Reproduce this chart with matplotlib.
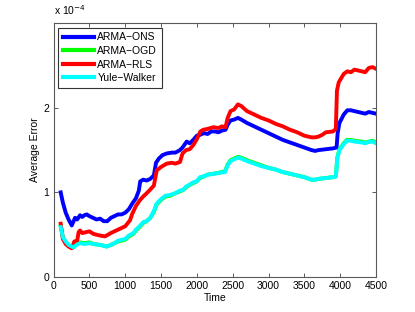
import matplotlib
matplotlib.use("Agg")
import matplotlib.pyplot as plt
import numpy as np

plt.rcParams['font.family'] = ['Liberation Sans', 'DejaVu Sans']

# average error, in units of 1e-4
x_ons = [100, 130, 170, 210, 254, 280, 300, 330, 370, 400, 430, 463, 500, 550, 600, 650, 700, 750,
         800, 850, 900, 950, 1000, 1050, 1100, 1150, 1190, 1210, 1250, 1300, 1350, 1400, 1430, 1470,
         1520, 1580, 1650, 1700, 1765, 1800, 1858, 1900, 1950, 2000, 2044, 2100, 2150, 2200, 2250,
         2300, 2350, 2400, 2430, 2470, 2520, 2574, 2620, 2700, 2800, 2900, 3000, 3100, 3200, 3300,
         3400, 3500, 3600, 3650, 3700, 3800, 3900, 3950, 3965, 3990, 4050, 4100, 4150, 4200, 4300,
         4350, 4400, 4450, 4500]
y_ons = [1.00, 0.88, 0.76, 0.68, 0.61, 0.66, 0.70, 0.68, 0.73, 0.71, 0.73, 0.74, 0.72, 0.70, 0.68,
         0.69, 0.66, 0.66, 0.70, 0.72, 0.74, 0.74, 0.76, 0.80, 0.87, 0.93, 1.02, 1.13, 1.15, 1.14,
         1.16, 1.20, 1.35, 1.40, 1.44, 1.46, 1.47, 1.47, 1.50, 1.53, 1.60, 1.58, 1.62, 1.67, 1.68,
         1.70, 1.69, 1.72, 1.72, 1.71, 1.73, 1.74, 1.80, 1.85, 1.86, 1.88, 1.86, 1.82, 1.78, 1.74,
         1.70, 1.66, 1.62, 1.59, 1.56, 1.53, 1.50, 1.49, 1.50, 1.51, 1.52, 1.53, 1.70, 1.82, 1.92,
         1.97, 1.97, 1.96, 1.94, 1.93, 1.95, 1.94, 1.93]

x_rls = [100, 130, 170, 210, 254, 290, 330, 350, 370, 400, 450, 500, 556, 600, 650, 718, 760, 800,
         850, 900, 950, 1000, 1067, 1100, 1150, 1207, 1250, 1300, 1346, 1400, 1440, 1500, 1579, 1650,
         1700, 1765, 1800, 1850, 1900, 1951, 2000, 2050, 2090, 2150, 2230, 2300, 2350, 2400, 2430,
         2470, 2520, 2574, 2620, 2700, 2800, 2900, 3000, 3100, 3200, 3300, 3400, 3500, 3600, 3650,
         3700, 3750, 3800, 3900, 3940, 3955, 3980, 4050, 4100, 4150, 4200, 4300, 4350, 4400, 4450,
         4500]
y_rls = [0.63, 0.45, 0.39, 0.36, 0.34, 0.42, 0.43, 0.53, 0.55, 0.52, 0.53, 0.54, 0.51, 0.50, 0.49,
         0.48, 0.50, 0.52, 0.54, 0.56, 0.58, 0.60, 0.67, 0.75, 0.84, 0.91, 0.95, 0.99, 1.03, 1.08,
         1.26, 1.30, 1.34, 1.35, 1.34, 1.36, 1.46, 1.50, 1.51, 1.56, 1.63, 1.72, 1.74, 1.75, 1.77,
         1.76, 1.78, 1.77, 1.88, 1.96, 1.98, 2.04, 2.02, 1.96, 1.92, 1.88, 1.85, 1.81, 1.78, 1.74,
         1.71, 1.67, 1.65, 1.65, 1.66, 1.68, 1.71, 1.72, 1.75, 2.20, 2.30, 2.40, 2.43, 2.42, 2.45,
         2.43, 2.42, 2.47, 2.48, 2.46]

x_yw = [100, 130, 170, 210, 277, 320, 370, 430, 500, 560, 649, 700, 742, 800, 850, 900, 950, 1000,
        1050, 1114, 1150, 1200, 1253, 1300, 1350, 1400, 1440, 1500, 1560, 1625, 1700, 1760, 1811,
        1850, 1900, 1950, 1998, 2044, 2100, 2150, 2230, 2300, 2393, 2430, 2470, 2520, 2574, 2620,
        2700, 2800, 2900, 3000, 3100, 3200, 3300, 3400, 3500, 3600, 3650, 3700, 3800, 3900, 3940,
        3960, 3990, 4050, 4091, 4150, 4200, 4300, 4350, 4400, 4450, 4500]
y_ogd = [0.60, 0.47, 0.41, 0.37, 0.35, 0.39, 0.41, 0.40, 0.41, 0.39, 0.38, 0.37, 0.36, 0.38, 0.40,
         0.42, 0.43, 0.44, 0.48, 0.51, 0.55, 0.59, 0.64, 0.66, 0.70, 0.77, 0.86, 0.91, 0.95, 0.96,
         0.99, 1.01, 1.03, 1.06, 1.09, 1.11, 1.13, 1.17, 1.19, 1.21, 1.22, 1.23, 1.25, 1.33, 1.38,
         1.40, 1.42, 1.41, 1.38, 1.35, 1.32, 1.29, 1.27, 1.24, 1.22, 1.20, 1.18, 1.15, 1.15, 1.16,
         1.17, 1.18, 1.19, 1.41, 1.51, 1.58, 1.62, 1.62, 1.61, 1.60, 1.59, 1.60, 1.61, 1.59]
y_yw = [0.59, 0.47, 0.42, 0.38, 0.35, 0.38, 0.40, 0.39, 0.40, 0.39, 0.38, 0.37, 0.36, 0.38, 0.40,
        0.43, 0.44, 0.45, 0.49, 0.52, 0.56, 0.60, 0.65, 0.66, 0.70, 0.78, 0.87, 0.92, 0.96, 0.97,
        0.99, 1.02, 1.03, 1.07, 1.09, 1.12, 1.13, 1.18, 1.19, 1.21, 1.22, 1.23, 1.24, 1.32, 1.37,
        1.39, 1.41, 1.40, 1.37, 1.34, 1.31, 1.29, 1.27, 1.24, 1.22, 1.20, 1.18, 1.15, 1.15, 1.16,
        1.17, 1.18, 1.19, 1.40, 1.50, 1.57, 1.61, 1.61, 1.60, 1.59, 1.58, 1.60, 1.60, 1.58]

fs = 7.5

fig = plt.figure(figsize=(4.15, 3.12), dpi=100)
ax = fig.add_axes([0.129, 0.112, 0.777, 0.814])

lw = 2.8
ax.plot(x_ons, y_ons, color=(0, 0, 1), lw=lw, label='ARMA\u2212ONS')
ax.plot(x_yw, y_ogd, color=(0, 1, 0), lw=lw, label='ARMA\u2212OGD')
ax.plot(x_rls, y_rls, color=(1, 0, 0), lw=lw, label='ARMA\u2212RLS')
ax.plot(x_yw, y_yw, color=(0, 1, 1), lw=lw, label='Yule\u2212Walker')

ax.set_xlim(0, 4500)
ax.set_ylim(0, 3)
ax.set_xticks(np.arange(0, 4501, 500))
ax.set_yticks([0, 1, 2])
ax.tick_params(direction='in', length=3, width=0.6, labelsize=fs, top=True, right=True,
               colors='0.25', labelcolor='black', pad=3)
for s in ax.spines.values():
    s.set_color('0.35')
    s.set_linewidth(0.8)

ax.set_xlabel('Time', fontsize=fs, labelpad=1.5)
ax.set_ylabel('Average Error', fontsize=fs, labelpad=2.5)
fig.text(0.13, 0.945, 'x 10$^{-4}$', fontsize=fs, va='bottom', ha='left')

leg = ax.legend(loc='upper left', fontsize=fs, frameon=True, fancybox=False,
                edgecolor='black', handlelength=3.0, labelspacing=0.34,
                borderpad=0.45, handletextpad=0.3, borderaxespad=0.45)
leg.get_frame().set_linewidth(0.8)
for line in leg.get_lines():
    line.set_linewidth(3)

fig.savefig('out.png', dpi=100)
